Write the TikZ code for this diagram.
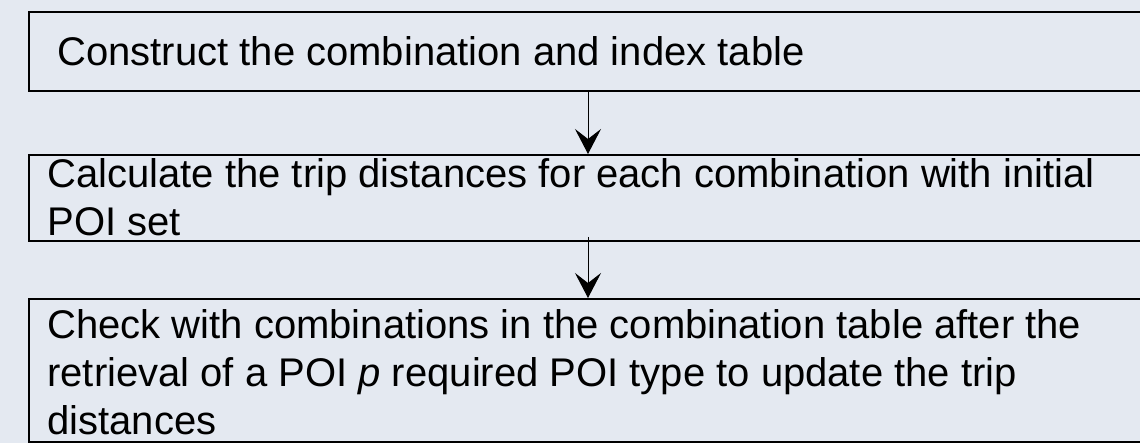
\documentclass[tikz,border=0pt]{standalone}
\usepackage{fontspec}
\setmainfont{Liberation Sans}
\usetikzlibrary{arrows.meta,positioning,calc}
\definecolor{paper}{RGB}{228,233,241}
\tikzset{
  box/.style={draw=black,line width=0.9pt,rectangle,inner sep=0pt,anchor=north west,minimum width=600pt},
  txt/.style={font=\fontsize{20}{24}\selectfont,inner sep=0pt,anchor=base west,align=left},
  arr/.style={-{Stealth[length=12.5pt,width=13pt,inset=5pt]},line width=0.5pt,draw=black}
}
\begin{document}
\begin{tikzpicture}[x=1pt,y=1pt]
  \fill[paper] (0,0) rectangle (570,-221.5);
  \useasboundingbox (0,0) rectangle (570,-221.5);
  \clip (0,0) rectangle (570,-221.5);
  \node[box,minimum height=39.5pt] (b1) at (14,-5.5) {};
  \node[box,minimum height=43pt] (b2) at (14,-77) {};
  \node[box,minimum height=71.5pt] (b3) at (14,-149) {};
  \node[txt] (t1) at ($(b1.north west)+(14.5,-27.5)$) {Construct the combination and index table};
  \node[txt] (t2) at ($(b2.north west)+(9.5,-40.5)$) {Calculate the trip distances for each combination with initial\\POI set};
  \node[txt] (t3) at ($(b3.north west)+(9.5,-68.2)$) {Check with combinations in the combination table after the\\retrieval of a POI \textit{p} required POI type to update the trip\\distances};
  \coordinate (ax) at (294,0);
  \draw[arr] (b1.south -| ax) -- (b2.north -| ax);
  \draw[arr] ($(b2.south -| ax)+(0,2.5)$) -- (b3.north -| ax);
\end{tikzpicture}
\end{document}
